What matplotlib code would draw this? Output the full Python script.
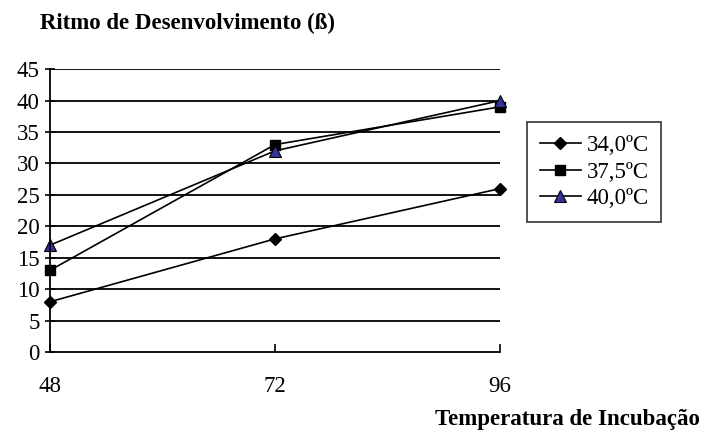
import matplotlib.pyplot as plt

plt.rcParams['font.family'] = ['Liberation Serif', 'DejaVu Serif']

horas = [48, 72, 96]
t340 = [8, 18, 26]
t375 = [13, 33, 39]
t400 = [17, 32, 40]
y_ticks = list(range(0, 50, 5))

fig = plt.figure(figsize=(7.01, 4.32), dpi=100)
ax = fig.add_axes([0.0713, 0.185, 0.642, 0.655])

for yv in y_ticks[1:]:
    ax.axhline(yv, color='black', lw=1.3, zorder=1)

ax.plot(horas, t340, color='black', lw=1.2, marker='D', ms=6,
        mfc='black', mec='black', label='34,0ºC', zorder=3, clip_on=False)
ax.plot(horas, t375, color='black', lw=1.2, marker='s', ms=7.5,
        mfc='black', mec='black', label='37,5ºC', zorder=3, clip_on=False)
ax.plot(horas, t400, color='black', lw=1.2, marker='^', ms=8,
        mfc='#333399', mec='black', mew=0.8, label='40,0ºC', zorder=3,
        clip_on=False)

ax.set_xlim(48, 96)
ax.set_ylim(0, 45)
ax.set_xticks(horas)
ax.set_yticks(y_ticks)
ax.tick_params(axis='y', direction='inout', length=7, width=1.2,
               labelsize=16.5, colors='black', pad=4)
ax.tick_params(axis='x', direction='in', length=6, width=1.2,
               labelsize=16.5, colors='black', pad=17)
for s in ['top', 'right']:
    ax.spines[s].set_visible(False)
for s in ['left', 'bottom']:
    ax.spines[s].set_linewidth(1.3)
    ax.spines[s].set_zorder(4)
ax.patch.set_alpha(0)

leg = fig.legend(loc='upper left', bbox_to_anchor=(0.752, 0.717),
                 fontsize=16.5, frameon=True, fancybox=False,
                 edgecolor='black', handlelength=1.8, handletextpad=0.25,
                 borderpad=0.55, labelspacing=0.25, borderaxespad=0)
leg.get_frame().set_linewidth(1.2)

fig.text(0.057, 0.945, 'Ritmo de Desenvolvimento (ß)', fontsize=16.5,
         fontweight='bold', ha='left', va='center')
fig.text(0.998, 0.028, 'Temperatura de Incubação', fontsize=16.5,
         fontweight='bold', ha='right', va='center')

fig.savefig('out.png', dpi=100)
